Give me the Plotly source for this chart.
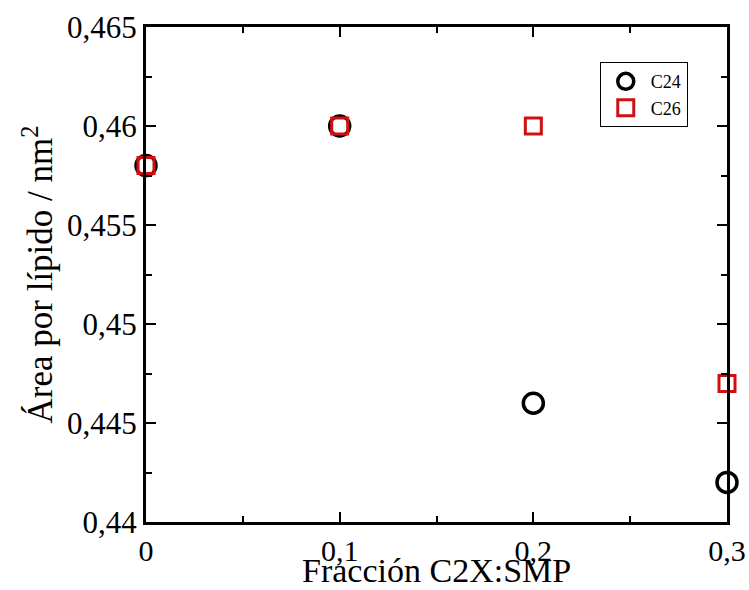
import plotly.graph_objects as go

# Data
x_vals = [0.0, 0.1, 0.2, 0.3]
c24 = [0.458, 0.460, 0.446, 0.442]
c26 = [0.458, 0.460, 0.460, 0.447]

x_ticks = [0.0, 0.1, 0.2, 0.3]
x_ticktext = ["0", "0,1", "0,2", "0,3"]
y_ticks = [0.44, 0.445, 0.45, 0.455, 0.46, 0.465]
y_ticktext = ["0,44", "0,445", "0,45", "0,455", "0,46", "0,465"]

x_title = "Fracción C2X:SMP"
y_title = "Área por lípido / nm<sup>2</sup>"

FONT = "Liberation Serif"

fig = go.Figure()
fig.add_trace(go.Scatter(
    x=x_vals, y=c24, mode="markers", name="C24", cliponaxis=False,
    marker=dict(symbol="circle-open", size=20, color="black",
                line=dict(width=3.5, color="black")),
))
fig.add_trace(go.Scatter(
    x=x_vals, y=c26, mode="markers", name="C26", cliponaxis=False,
    marker=dict(symbol="square-open", size=16, color="#d01010",
                line=dict(width=3, color="#d01010")),
))

fig.update_layout(
    width=749, height=590,
    margin=dict(l=146, r=22, t=27, b=68),
    paper_bgcolor="white", plot_bgcolor="white",
    font=dict(family=FONT, size=31, color="black"),
    showlegend=True,
    legend=dict(
        x=0.781, y=0.929, xanchor="left", yanchor="top",
        bgcolor="white", bordercolor="black", borderwidth=1,
        font=dict(family=FONT, size=18, color="black"),
        itemwidth=40, tracegroupgap=0,
    ),
    xaxis=dict(
        range=[0, 0.3], tickmode="array", tickvals=x_ticks, ticktext=x_ticktext,
        showline=True, linecolor="black", linewidth=3, mirror="ticks",
        ticks="inside", ticklen=10, tickwidth=1.5, tickcolor="black",
        showgrid=False, zeroline=False, automargin=False,
        tickfont=dict(family=FONT, size=30, color="black"),
        minor=dict(ticks="inside", ticklen=6, tickwidth=1.5, tickcolor="black", dtick=0.05),
    ),
    yaxis=dict(
        range=[0.44, 0.465], tickmode="array", tickvals=y_ticks, ticktext=y_ticktext,
        showline=True, linecolor="black", linewidth=3, mirror="ticks",
        ticks="inside", ticklen=10, tickwidth=1.5, tickcolor="black",
        showgrid=False, zeroline=False, automargin=False,
        tickfont=dict(family=FONT, size=31, color="black"),
        minor=dict(ticks="inside", ticklen=6, tickwidth=1.5, tickcolor="black", dtick=0.0025),
        title=dict(text=y_title, font=dict(family=FONT, size=35, color="black"), standoff=4),
    ),
    annotations=[dict(
        text=x_title, xref="paper", yref="paper", x=0.5, y=-0.097,
        xanchor="center", yanchor="middle", showarrow=False,
        font=dict(family=FONT, size=34, color="black"),
    )],
)

fig.write_html("out.html")
